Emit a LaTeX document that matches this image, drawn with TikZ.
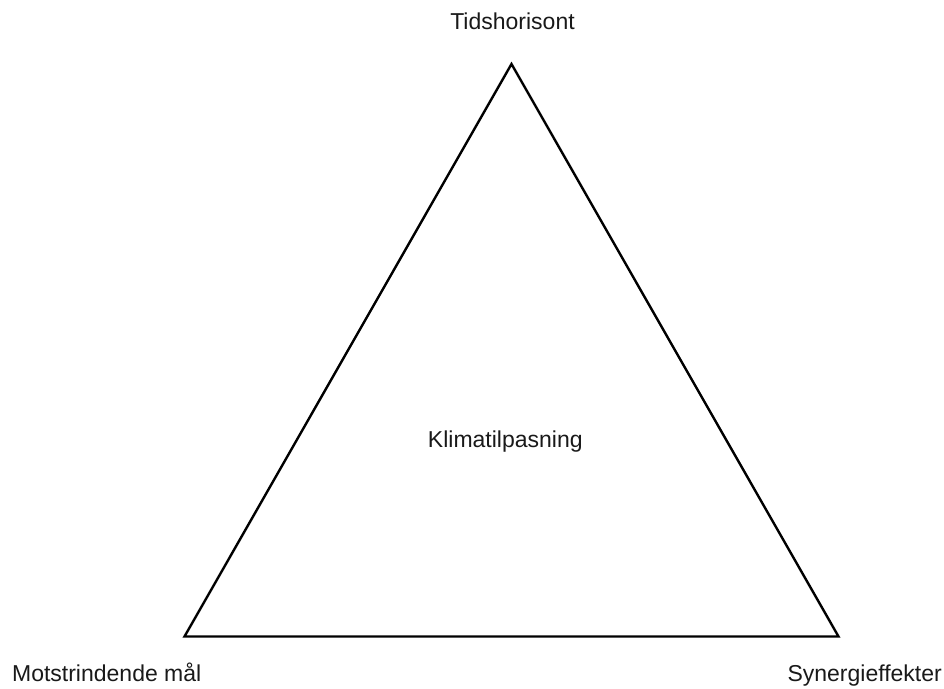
\documentclass[tikz,border=0pt]{standalone}
\usepackage{fontspec}
\setmainfont{Liberation Sans}
\begin{document}
\begin{tikzpicture}[x=1pt,y=-1pt,
  lbl/.style={anchor=base,inner sep=0pt,font=\fontsize{23}{27}\selectfont,text=black!90},
  tri/.style={draw=black,line width=2.4pt,line join=miter}]
\useasboundingbox (0,0) rectangle (944,688);
\coordinate (top) at (511.5,64);
\coordinate (bl) at (184.5,636.5);
\coordinate (br) at (838.5,636.5);
\draw[tri] (top) -- (br) -- (bl) -- cycle;
\node[lbl] (t) at (512.5,29.3) {Tidshorisont};
\node[lbl] (c) at (505.3,447.3) {Klimatilpasning};
\node[lbl] (l) at (106.7,681.7) {Motstrindende mål};
\node[lbl] (r) at (864.7,681.7) {Synergieffekter};
\end{tikzpicture}
\end{document}
